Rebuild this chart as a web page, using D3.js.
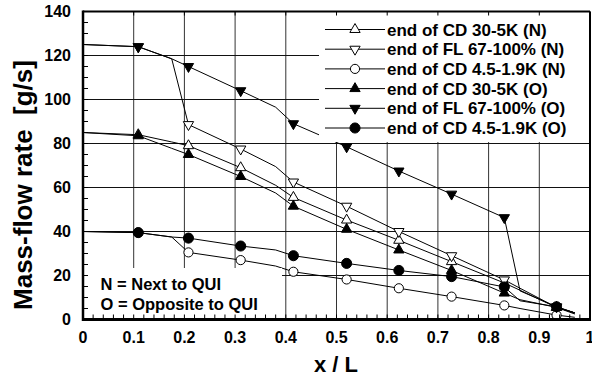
<!DOCTYPE html>
<html>
<head>
<meta charset="utf-8">
<script src="https://cdn.jsdelivr.net/npm/d3@7/dist/d3.min.js"></script>
<style>
  body { margin: 0; background: #fff; }
  text { font-family: "Liberation Sans", Arial, sans-serif; font-weight: bold; fill: #000; }
</style>
</head>
<body>
<div id="chart"></div>
<script>
// x positions of the line breakpoints (x / L)
const xLine = [0, 0.109, 0.175, 0.208, 0.311, 0.38, 0.415, 0.52, 0.623, 0.727, 0.831, 0.862, 0.934, 0.97];
// x positions where markers sit
const xMark = [0.109, 0.208, 0.311, 0.415, 0.52, 0.623, 0.727, 0.831, 0.934];

// mass-flow rate [g/s] for each series at xLine
const cd30N = [85, 84, 80.7, 79, 69, 61, 55.5, 45.2, 36, 26.3, 16.6, 13.3, 5.5, 2.5];
const fl67N = [125, 124, 118.5, 88.6, 77.5, 69.5, 62.5, 51.5, 40, 29, 18, 14.2, 5.5, 3];
const cd45N = [40, 39.5, 37.5, 30.5, 27, 24.3, 21.7, 18.2, 14.2, 10.4, 6.4, 5, 2, 1];
const cd30O = [85, 83.5, 77.8, 75, 65, 57.5, 51.5, 41, 31.6, 22.3, 12, 9, 5.5, 3];
const fl67O = [125, 124, 118.5, 115, 104, 96.5, 89, 78.5, 67.5, 57, 46.3, 13, 5.8, 3];
const cd45O = [40, 39.5, 37.5, 37, 33.4, 31.6, 29, 25.5, 22.3, 19.5, 14.8, 8.5, 5.8, 3];

const seriesNames = [
  'end of CD 30-5K (N)', 'end of FL 67-100% (N)', 'end of CD 4.5-1.9K (N)',
  'end of CD 30-5K (O)', 'end of FL 67-100% (O)', 'end of CD 4.5-1.9K (O)'
];
const xTicks = [0, 0.1, 0.2, 0.3, 0.4, 0.5, 0.6, 0.7, 0.8, 0.9, 1];
const yTicks = [0, 20, 40, 60, 80, 100, 120, 140];
const noteLines = ['N = Next to QUI', 'O = Opposite to QUI'];

// marker style per series: symbol, filled, rotation
const series = [
  { name: seriesNames[0], values: cd30N, sym: d3.symbolTriangle, fill: false, rot: 0 },
  { name: seriesNames[1], values: fl67N, sym: d3.symbolTriangle, fill: false, rot: 180 },
  { name: seriesNames[2], values: cd45N, sym: d3.symbolCircle, fill: false, rot: 0 },
  { name: seriesNames[3], values: cd30O, sym: d3.symbolTriangle, fill: true, rot: 0 },
  { name: seriesNames[4], values: fl67O, sym: d3.symbolTriangle, fill: true, rot: 180 },
  { name: seriesNames[5], values: cd45O, sym: d3.symbolCircle, fill: true, rot: 0 }
];

const W = 592, H = 376;
const svg = d3.select('#chart').append('svg')
  .attr('width', W).attr('height', H);

const x = d3.scaleLinear().domain([0, 1]).range([83, 590]);
const y = d3.scaleLinear().domain([0, 140]).range([319.5, 11.5]);

// grid
const grid = svg.append('g');
grid.selectAll('.vg').data(xTicks.slice(1, -1)).enter().append('line')
  .attr('x1', d => x(d)).attr('x2', d => x(d))
  .attr('y1', y(140)).attr('y2', y(0))
  .attr('stroke', '#333').attr('stroke-width', 1);
grid.selectAll('.hg').data(yTicks.slice(1, -1)).enter().append('line')
  .attr('x1', x(0)).attr('x2', x(1))
  .attr('y1', d => y(d)).attr('y2', d => y(d))
  .attr('stroke', '#111').attr('stroke-width', 1);

// lines
const line = d3.line().x((d, i) => x(xLine[i])).y(d => y(d));
svg.append('g').selectAll('path').data(series).enter().append('path')
  .attr('d', d => line(d.values))
  .attr('fill', 'none').attr('stroke', '#000').attr('stroke-width', 1);

// markers
function symPath(s) {
  const size = s.sym === d3.symbolCircle ? (s.fill ? 80 : 66) : 46;
  return d3.symbol().type(s.sym).size(size)();
}
series.forEach(s => {
  const pts = xMark.map(xm => ({ x: xm, v: s.values[xLine.indexOf(xm)] }));
  svg.append('g').selectAll('path').data(pts).enter().append('path')
    .attr('d', symPath(s))
    .attr('transform', d => `translate(${x(d.x)},${y(d.v)}) rotate(${s.rot})`)
    .attr('fill', s.fill ? '#000' : '#fff')
    .attr('stroke', '#000').attr('stroke-width', 1);
});

// legend box (covers grid and data)
const lg = svg.append('g');
lg.append('rect').attr('x', 319).attr('y', y(140)).attr('width', x(1) - 319).attr('height', 142 - y(140))
  .attr('fill', '#fff');
series.forEach((s, i) => {
  const ly = 29.5 + i * 19.7;
  lg.append('line').attr('x1', 325).attr('x2', 385).attr('y1', ly).attr('y2', ly)
    .attr('stroke', '#000').attr('stroke-width', 1);
  lg.append('path').attr('d', symPath(s))
    .attr('transform', `translate(355,${ly}) rotate(${s.rot})`)
    .attr('fill', s.fill ? '#000' : '#fff').attr('stroke', '#000');
  lg.append('text').attr('x', 387).attr('y', ly + 6).style('font-size', '17px').text(s.name);
});

// note box
const nb = svg.append('g');
nb.append('rect').attr('x', x(0)).attr('y', 268).attr('width', 282 - x(0)).attr('height', y(0) - 268)
  .attr('fill', '#fff');
noteLines.forEach((t, i) => {
  nb.append('text').attr('x', 100.5).attr('y', 289.5 + i * 20.7).style('font-size', '16.5px').text(t);
});

// ticks
const ticks = svg.append('g').attr('stroke', '#000').attr('stroke-width', 1);
d3.range(0, 1.0001, 0.02).forEach(v => {
  ticks.append('line').attr('x1', x(v)).attr('x2', x(v)).attr('y1', y(0)).attr('y2', y(0) - 5);
});
d3.range(0, 140.001, 5).forEach(v => {
  ticks.append('line').attr('x1', x(0)).attr('x2', x(0) + 5).attr('y1', y(v)).attr('y2', y(v));
});
xTicks.forEach(v => {
  ticks.append('line').attr('x1', x(v)).attr('x2', x(v)).attr('y1', y(140)).attr('y2', y(140) + 4);
});

// frame
svg.append('line').attr('x1', x(0)).attr('x2', x(1)).attr('y1', y(140)).attr('y2', y(140))
  .attr('stroke', '#000').attr('stroke-width', 2);
svg.append('line').attr('x1', x(1)).attr('x2', x(1)).attr('y1', y(140)).attr('y2', y(0))
  .attr('stroke', '#000').attr('stroke-width', 2);
svg.append('line').attr('x1', x(0)).attr('x2', x(0)).attr('y1', y(140) - 1).attr('y2', y(0) + 1.5)
  .attr('stroke', '#000').attr('stroke-width', 2.5);
svg.append('line').attr('x1', x(0) - 1).attr('x2', x(1) + 1).attr('y1', y(0)).attr('y2', y(0))
  .attr('stroke', '#000').attr('stroke-width', 3);

// tick labels
svg.append('g').selectAll('text').data(yTicks).enter().append('text')
  .attr('x', 71).attr('y', d => y(d) + 5.8)
  .attr('text-anchor', 'end').style('font-size', '16px')
  .text(d => d);
svg.append('g').selectAll('text').data(xTicks).enter().append('text')
  .attr('x', d => x(d)).attr('y', 343)
  .attr('text-anchor', 'middle').style('font-size', '16px')
  .text(d => d);

// axis titles
svg.append('text')
  .attr('transform', 'translate(32,185) rotate(-90)')
  .attr('text-anchor', 'middle').style('font-size', '26px').style('white-space', 'pre')
  .text('Mass-flow rate  [g/s]');
svg.append('text').attr('x', 336).attr('y', 372)
  .attr('text-anchor', 'middle').style('font-size', '22px')
  .text('x / L');
</script>
</body>
</html>
